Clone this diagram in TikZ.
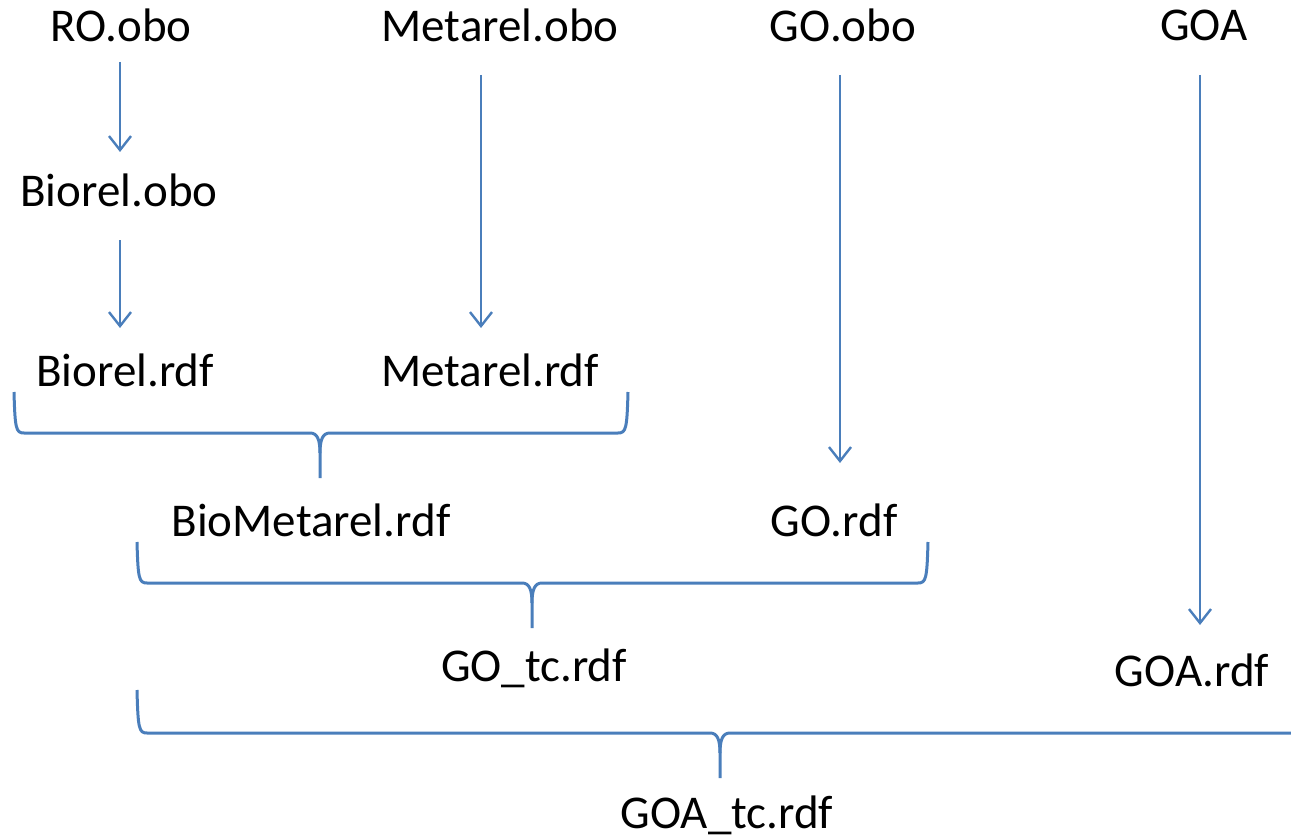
\documentclass[tikz,border=0pt]{standalone}
\usepackage{fontspec}
\setmainfont{Carlito}
\usetikzlibrary{arrows.meta,calc}
\definecolor{lineblue}{HTML}{4A7EBB}
\tikzset{
  lbl/.style={inner sep=0pt, anchor=center, font=\fontsize{47}{56}\selectfont},
  arr/.style={draw=lineblue, line width=2pt, -{Straight Barb[length=14pt,width=22pt,line width=2.4pt]}},
  br/.style={draw=lineblue, line width=3pt, line join=round}
}
\newcommand\obrace[6]{%
  % #1 left x, #2 top y, #3 bottom y, #4 right x, #5 tip x, #6 tip end y
  \draw[br] (#1,#2) .. controls (#1+1,#3-4) and (#1+2,#3) .. (#1+10,#3)
     -- (#5-10,#3) .. controls (#5-3,#3) and (#5,#3+6) .. (#5,#3+20) -- (#5,#6);
  \draw[br] (#4,#2) .. controls (#4-1,#3-4) and (#4-2,#3) .. (#4-10,#3)
     -- (#5+10,#3) .. controls (#5+3,#3) and (#5,#3+6) .. (#5,#3+20);
}
\begin{document}
\begin{tikzpicture}[x=1pt,y=-1pt]
\useasboundingbox (0,0) rectangle (1291,840);
\clip (0,0) rectangle (1291,840);
\node[lbl] (roobo) at (121,25) {RO.obo};
\node[lbl] (metobo) at (500,25) {Metarel.obo};
\node[lbl] (goobo) at (843,25) {GO.obo};
\node[lbl] (goa) at (1204,25) {GOA};
\node[lbl] (biobo) at (119,190) {Biorel.obo};
\node[lbl] (biordf) at (125,370) {Biorel.rdf};
\node[lbl] (metrdf) at (490,370) {Metarel.rdf};
\node[lbl] (biometrdf) at (311,520) {BioMetarel.rdf};
\node[lbl] (gordf) at (834,520) {GO.rdf};
\node[lbl] (gotc) at (534,668) {GO\_tc.rdf};
\node[lbl] (goardf) at (1192,670) {GOA.rdf};
\node[lbl] (goatc) at (727,815) {GOA\_tc.rdf};

\draw[arr] ($(roobo.center -| 120,0)+(0,37)$) -- ($(biobo.center -| 120,0)+(0,-38)$);
\draw[arr] ($(biobo.center -| 120,0)+(0,50)$) -- ($(biordf.center -| 120,0)+(0,-42)$);
\draw[arr] ($(metobo.center -| 481,0)+(0,50)$) -- ($(metrdf.center -| 481,0)+(0,-42)$);
\draw[arr] ($(goobo.center -| 840,0)+(0,50)$) -- ($(gordf.center -| 840,0)+(0,-57)$);
\draw[arr] ($(goa.center -| 1200,0)+(0,50)$) -- ($(goardf.center -| 1200,0)+(0,-45)$);

\obrace{14}{392}{433}{628}{320}{478}
\obrace{137}{542}{583}{928}{532}{628}
\obrace{137}{690}{733}{1302}{720}{778}
\end{tikzpicture}
\end{document}
